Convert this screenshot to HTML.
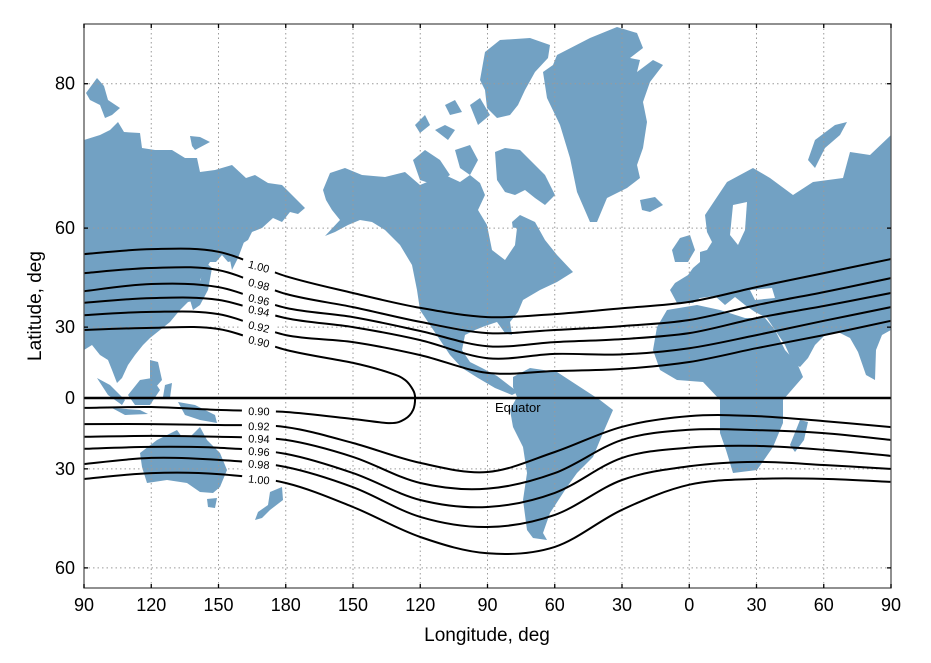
<!DOCTYPE html>
<html><head><meta charset="utf-8"><style>
html,body{margin:0;padding:0;background:#fff;}
svg{display:block;font-family:"Liberation Sans",Arial,sans-serif;}
</style></head><body>
<svg id="chart" width="931" height="663" viewBox="0 0 931 663">
<defs><clipPath id="plotclip"><rect x="84" y="24" width="807" height="564"/></clipPath></defs>
<rect x="0" y="0" width="931" height="663" fill="#fff"/>
<g id="land" clip-path="url(#plotclip)" fill="#72a1c3">
<path d="M84,140 L100,135 L110,130 L118,122 L124,132 L140,133 L142,148 L155,150 L172,150 L185,158 L197,158 L200,172 L215,170 L232,165 L246,178 L255,175 L268,183 L282,185 L295,198 L305,208 L298,214 L290,212 L282,222 L273,218 L262,228 L252,232 L248,240 L240,245 L236,260 L228,262 L222,255 L216,262 L210,262 L205,270 L200,280 L206,290 L198,300 L188,302 L180,310 L170,322 L160,330 L150,338 L143,345 L135,355 L128,365 L122,378 L117,383 L112,370 L108,360 L100,355 L92,345 L84,350 Z"/>
<path d="M226,232 L240,229 L244,242 L238,258 L232,270 L229,255 Z"/>
<path d="M205,262 L212,268 L208,290 L200,305 L193,310 L190,300 L198,290 Z"/>
<path d="M86,93 L97,78 L104,86 L108,100 L120,108 L112,115 L105,118 L100,105 L90,100 Z"/>
<path d="M190,136 L200,137 L210,142 L195,150 L192,146 Z"/>
<path d="M323,190 L330,173 L345,168 L362,175 L385,177 L405,172 L420,185 L432,180 L445,175 L460,182 L470,175 L480,183 L485,195 L478,210 L487,225 L492,250 L505,260 L515,245 L512,222 L520,215 L535,222 L545,240 L557,255 L573,272 L557,282 L540,290 L523,300 L518,312 L510,322 L512,335 L505,333 L497,322 L485,326 L475,330 L465,335 L462,350 L470,362 L482,368 L497,376 L510,386 L518,392 L512,395 L495,388 L478,378 L462,368 L450,355 L440,340 L430,325 L420,310 L417,290 L412,265 L400,245 L385,230 L372,222 L360,220 L348,225 L335,232 L325,236 L340,220 L332,210 L326,200 Z"/>
<path d="M485,52 L500,40 L530,38 L550,45 L548,58 L535,72 L525,90 L518,105 L510,115 L497,118 L487,108 L485,90 L480,80 Z"/>
<path d="M495,152 L505,148 L520,150 L535,165 L545,175 L555,195 L545,205 L535,198 L525,190 L515,195 L505,192 L497,180 Z"/>
<path d="M415,125 L425,115 L430,125 L420,133 Z M435,130 L445,125 L455,130 L448,140 Z M413,160 L425,150 L440,160 L450,175 L435,185 L420,180 Z M455,150 L470,145 L478,160 L470,175 L460,168 Z M470,105 L480,98 L490,115 L478,125 Z M445,105 L455,100 L462,112 L450,115 Z"/>
<path d="M557,55 L590,38 L617,27 L637,33 L643,48 L630,58 L640,60 L637,72 L653,60 L663,65 L650,82 L643,102 L647,122 L643,148 L637,165 L640,178 L627,188 L607,198 L597,222 L590,222 L577,192 L570,158 L560,125 L547,98 L543,72 L553,65 Z"/>
<path d="M640,200 L655,197 L663,205 L650,212 L642,210 Z"/>
<path d="M891,135 L891,330 L882,335 L876,350 L875,380 L866,375 L858,352 L850,338 L838,332 L825,335 L815,345 L808,358 L800,367 L793,363 L785,345 L775,330 L767,318 L755,312 L745,305 L735,297 L725,305 L715,296 L700,298 L693,303 L677,303 L670,290 L675,283 L688,275 L693,268 L700,262 L700,252 L707,250 L712,242 L707,232 L705,215 L715,200 L727,182 L753,168 L770,178 L793,195 L813,182 L843,178 L850,152 L870,155 Z"/>
<path d="M808,160 L815,140 L835,125 L847,122 L840,135 L825,148 L815,168 Z"/>
<path d="M672,250 L680,238 L690,235 L695,250 L688,262 L675,262 Z"/>
<path d="M657,327 L667,310 L697,305 L720,310 L745,318 L765,318 L775,330 L785,350 L797,363 L803,377 L783,400 L783,423 L773,447 L757,470 L733,473 L726,450 L720,433 L720,400 L703,382 L677,380 L660,370 L653,350 Z"/>
<path d="M800,420 L808,422 L804,440 L795,452 L790,445 Z"/>
<path d="M513,377 L530,368 L557,372 L580,387 L600,400 L613,410 L603,433 L593,457 L577,473 L567,487 L550,513 L543,533 L547,540 L533,538 L527,530 L523,500 L527,473 L523,447 L513,427 L510,410 L517,397 L513,387 Z"/>
<path d="M140,453 L157,440 L177,430 L182,437 L190,437 L200,427 L207,440 L220,453 L227,470 L220,487 L213,493 L200,492 L187,483 L167,480 L147,483 L142,467 Z"/>
<path d="M207,499 L217,498 L215,508 L208,507 Z"/>
<path d="M270,492 L282,487 L283,500 L270,510 L262,518 L255,520 L258,512 L268,505 Z"/>
<path d="M97,378 L110,385 L125,400 L122,405 L108,395 Z M128,395 L140,380 L152,378 L160,390 L150,405 L135,405 Z M112,408 L140,410 L148,414 L125,415 Z M178,402 L195,405 L215,415 L217,423 L200,420 L185,415 Z M150,360 L158,362 L162,380 L155,388 L150,378 Z M165,385 L172,383 L170,398 L163,397 Z"/>
</g>
<g fill="#fff" clip-path="url(#plotclip)">
<path d="M487,225 L517,228 L515,245 L505,258 L493,250 Z"/>
<path d="M733,205 L747,202 L745,230 L738,245 L730,235 Z"/>
<path d="M750,290 L772,288 L775,298 L755,300 Z"/>
</g>
<g id="grid"></g>
<g id="contours" clip-path="url(#plotclip)"></g>
<g id="labels"></g>
<g id="axes"></g>
</svg>
<script>
const NS='http://www.w3.org/2000/svg';
const northLon=[90,120,150,180,210,240,270,300,330,360,390,420,450];
const southLon=[90,120,150,180,210,240,270,300,330,360,390,420,450];
const levels=['1.00','0.98','0.96','0.94','0.92'];
const north100=[53.7,55.0,54.3,47.5,42.2,37.1,33.8,34.9,37.0,39.2,44.1,48.4,52.4];
const north098=[48.4,49.9,49.3,41.9,37.4,32.0,27.7,28.9,30.4,32.7,38.1,42.5,46.9];
const north096=[42.8,45.1,44.1,37.1,33.8,28.5,22.4,24.1,25.3,27.7,33.4,37.8,42.2];
const north094=[38.9,40.5,39.9,33.4,30.0,24.9,17.4,19.2,19.0,21.6,26.9,32.4,37.4];
const north092=[34.5,35.7,34.9,26.9,24.1,18.7,11.1,11.9,12.8,15.8,21.6,26.9,32.4];
const south100=[-33.8,-31.6,-32.0,-35.3,-43.5,-52.4,-56.6,-55.0,-44.4,-35.9,-33.8,-33.8,-34.9];
const south098=[-28.1,-25.7,-26.5,-29.3,-36.8,-46.6,-49.6,-46.0,-34.2,-29.0,-27.3,-28.5,-30.0];
const south096=[-22.0,-21.2,-21.6,-24.1,-31.6,-41.2,-43.5,-38.8,-25.7,-21.5,-20.8,-22.4,-24.9];
const south094=[-17.0,-16.6,-17.0,-18.3,-25.3,-35.3,-37.3,-31.6,-18.3,-14.0,-14.1,-15.4,-18.3];
const south092=[-11.5,-11.5,-11.9,-12.8,-19.6,-27.7,-31.2,-23.3,-12.7,-8.0,-8.0,-10.2,-12.8];
const loopLon=[90,120,150,180,210,226.5,233.2,236.8,237.7,236.8,233.2,226.5,210,180,150,120,90];
const loopLat=[28.9,29.7,29.3,20.9,15.4,11.1,8.0,3.5,0,-5.3,-9.3,-11.1,-9.3,-6.2,-5.3,-4.0,-4.4];
const xTickLon=[90,120,150,180,210,240,270,300,330,360,390,420,450];
const xTickLabels=['90','120','150','180','150','120','90','60','30','0','30','60','90'];
const yTickLat=[80,60,30,0,-30,-60];
const yTickLabels=['80','60','30','0','30','60'];

const X0=84,X1=891,Y0=24,Y1=588;
function xScale(lon){return X0+(lon-90)*(X1-X0)/360;}
function yScale(lat){return 398-129*Math.log(Math.tan(Math.PI/4+lat*Math.PI/360));}
function mk(tag,attrs,parent){const e=document.createElementNS(NS,tag);for(const k in attrs)e.setAttribute(k,attrs[k]);parent.appendChild(e);return e;}
function smooth(pts){
  let d='M'+pts[0][0].toFixed(1)+','+pts[0][1].toFixed(1);
  for(let i=0;i<pts.length-1;i++){
    const p0=pts[Math.max(0,i-1)],p1=pts[i],p2=pts[i+1],p3=pts[Math.min(pts.length-1,i+2)];
    const c1=[p1[0]+(p2[0]-p0[0])/6,p1[1]+(p2[1]-p0[1])/6];
    const c2=[p2[0]-(p3[0]-p1[0])/6,p2[1]-(p3[1]-p1[1])/6];
    d+=' C'+c1[0].toFixed(1)+','+c1[1].toFixed(1)+' '+c2[0].toFixed(1)+','+c2[1].toFixed(1)+' '+p2[0].toFixed(1)+','+p2[1].toFixed(1);
  }
  return d;
}
const grid=document.getElementById('grid');
xTickLon.forEach(function(lon){
  const ln=mk('line',{x1:xScale(lon),x2:xScale(lon),y1:Y0,y2:Y1,stroke:'#9a9a9a','stroke-width':1,'stroke-dasharray':'1.5,3'},grid);
  
  
});
yTickLat.forEach(function(lat){
  if(lat===0)return;
  const ln=mk('line',{x1:X0,x2:X1,y1:yScale(lat),y2:yScale(lat),stroke:'#9a9a9a','stroke-width':1,'stroke-dasharray':'1.5,3'},grid);
  
  
});
const cg=document.getElementById('contours');
const lg=document.getElementById('labels');
function toPts(lons,lats){return lons.map(function(l,i){return [xScale(l),yScale(lats[i])];});}
function labelAt(pts,txt,lonAt){
  const xa=xScale(lonAt);let y=pts[0][1],ang=0;
  for(let i=0;i<pts.length-1;i++){
    if(pts[i][0]<=xa&&pts[i+1][0]>=xa){const t=(xa-pts[i][0])/(pts[i+1][0]-pts[i][0]);y=pts[i][1]+t*(pts[i+1][1]-pts[i][1]);ang=Math.atan2(pts[i+1][1]-pts[i][1],pts[i+1][0]-pts[i][0])*180/Math.PI*0.75;break;}
  }
  const g=mk('g',{transform:'translate('+xa.toFixed(1)+','+y.toFixed(1)+') rotate('+ang.toFixed(1)+')'},lg);
  
  
  mk('rect',{x:-17,y:-6,width:34,height:12,fill:'#fff'},g);
  const t=mk('text',{x:0,y:4,'text-anchor':'middle','font-size':11,fill:'#000'},g);
  t.textContent=txt;
}
const northSets=[north100,north098,north096,north094,north092];
const southSets=[south100,south098,south096,south094,south092];
northSets.forEach(function(arr,i){
  const pts=toPts(northLon,arr);
  const p=mk('path',{d:smooth(pts),fill:'none',stroke:'#000','stroke-width':2},cg);
  
  
  labelAt(pts,levels[i],168);
});
southSets.forEach(function(arr,i){
  const pts=toPts(southLon,arr);
  const p=mk('path',{d:smooth(pts),fill:'none',stroke:'#000','stroke-width':2},cg);
  
  
  labelAt(pts,levels[i],168);
});
(function(){
  const pts=toPts(loopLon,loopLat);
  const p=mk('path',{d:smooth(pts),fill:'none',stroke:'#000','stroke-width':2},cg);
  
  
  labelAt(pts.slice(0,6),'0.90',168);
  labelAt(pts.slice(11).reverse(),'0.90',168);
})();
const eq=mk('line',{x1:X0,x2:X1,y1:yScale(0),y2:yScale(0),stroke:'#000','stroke-width':2.6},cg);


const eqt=mk('text',{x:495,y:412,'font-size':13,fill:'#000'},lg);


eqt.textContent='Equator';
const ax=document.getElementById('axes');
const fr=mk('rect',{x:X0,y:Y0,width:X1-X0,height:Y1-Y0,fill:'none',stroke:'#555','stroke-width':1.3},ax);


xTickLon.forEach(function(lon,i){
  const x=xScale(lon);
  mk('line',{x1:x,x2:x,y1:Y1,y2:Y1-4,stroke:'#000','stroke-width':1.3},ax);
  mk('line',{x1:x,x2:x,y1:Y0,y2:Y0+4,stroke:'#000','stroke-width':1.3},ax);
  const t=mk('text',{x:x,y:611,'text-anchor':'middle','font-size':18,fill:'#000'},ax);
  
  
  t.textContent=xTickLabels[i];
});
yTickLat.forEach(function(lat,i){
  const y=yScale(lat);
  mk('line',{x1:X0,x2:X0+4,y1:y,y2:y,stroke:'#000','stroke-width':1.3},ax);
  mk('line',{x1:X1,x2:X1-4,y1:y,y2:y,stroke:'#000','stroke-width':1.3},ax);
  const t=mk('text',{x:75,y:y+6,'text-anchor':'end','font-size':18,fill:'#000'},ax);
  
  
  t.textContent=yTickLabels[i];
});
const xt=mk('text',{x:487,y:641,'text-anchor':'middle','font-size':19,fill:'#000'},ax);


xt.textContent='Longitude, deg';
const yt=mk('text',{x:0,y:0,'text-anchor':'middle','font-size':19,fill:'#000',transform:'translate(41,306) rotate(-90)'},ax);


yt.textContent='Latitude, deg';
</script>
</body></html>
